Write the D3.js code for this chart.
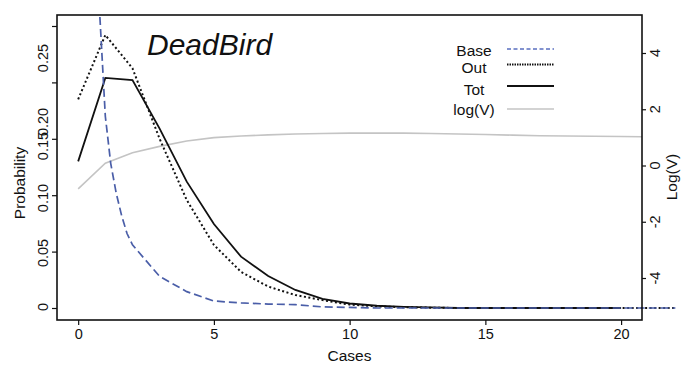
<!DOCTYPE html>
<html><head><meta charset="utf-8">
<script src="https://cdn.jsdelivr.net/npm/d3@7"></script>
<style>
body{margin:0;background:#fff;}
text{font-family:"Liberation Sans",Arial,sans-serif;fill:#111;}
</style></head>
<body><svg id="c" width="686" height="371"></svg>
<script>
// ---- data ----
const cases = [0,1,2,3,4,5,6,7,8,9,10,11,12,13,14,15,16,17,18,19,20,21,22];
const tot   = [0.130,0.204,0.202,0.159,0.112,0.0745,0.0455,0.0284,0.016,0.008,0.004,0.002,0.001,0.0005,0,0,0,0,0,0,0];
const outP  = [0.185,0.242,0.2125,0.150,0.0957,0.0559,0.032,0.019,0.0115,0.007,0.003,0.0015,0.0007,0.0003,0,0,0,0,0,0,0,0,0];
const baseX = [0.8,0.9,1.0,1.2,1.4,1.6,1.8,2,3,4,5,6,7,8,9,10,11,12,13,14,15,16,17,18,19,20,21,22];
const baseY = [0.258,0.214,0.17,0.128,0.102,0.082,0.066,0.056,0.028,0.0145,0.0062,0.0045,0.0035,0.003,0.001,0.0005,0,0,0,0,0,0,0,0,0,0,0,0];
const logV  = [-0.83,0.08,0.45,0.68,0.87,0.99,1.05,1.09,1.12,1.14,1.15,1.15,1.15,1.14,1.12,1.10,1.08,1.06,1.05,1.04,1.03,1.02];
const xTicks = [0,5,10,15,20];
const yTicks = [0,0.05,0.10,0.15,0.20,0.25];
const yTickLabels = ["0","0.05","0.10","0.15","0.20","0.25"];
const yLabelAt = [0.0009,0.0488,0.0975,0.1436,0.1649,0.2216]; // where the labels sit on the left scale
const rTicks = [-4,-2,0,2,4];
const legendItems = ["Base","Out","Tot","log(V)"];

// ---- layout ----
const L=57,R=642,T=15,B=320;
const svg = d3.select("#c");
const x = d3.scaleLinear().domain([-0.78,20.77]).range([L,R]);
const y = d3.scaleLinear().domain([-0.01064,0.25975]).range([B,T]);
const y2 = d3.scaleLinear().domain([-5.493,5.351]).range([B,T]);

svg.append("defs").append("clipPath").attr("id","box")
  .append("rect").attr("x",L).attr("y",T).attr("width",R-L).attr("height",B-T);

// axes
const gx = svg.append("g").attr("transform",`translate(0,${B})`)
  .call(d3.axisBottom(x).tickValues(xTicks).tickSize(5).tickPadding(4).tickFormat(d3.format("d")));
gx.select(".domain").remove();
gx.selectAll("text").attr("font-size","14.5px").attr("font-family","Liberation Sans, Arial, sans-serif").attr("fill","#111");
gx.selectAll("line").attr("stroke","#111").attr("stroke-width",1.2);

const gy = svg.append("g").attr("transform",`translate(${L},0)`)
  .call(d3.axisLeft(y).tickValues(yTicks).tickSize(5).tickFormat(""));
gy.select(".domain").remove();
gy.selectAll("line").attr("stroke","#111").attr("stroke-width",1.2);
svg.append("g").selectAll("text").data(yLabelAt).join("text")
  .attr("transform",d=>`translate(48,${y(d)}) rotate(-90)`)
  .attr("text-anchor","middle").attr("font-size","14.5px")
  .text((d,i)=>yTickLabels[i]);

const gr = svg.append("g").attr("transform",`translate(${R},0)`)
  .call(d3.axisRight(y2).tickValues(rTicks).tickSize(4).tickFormat(""));
gr.select(".domain").remove();
gr.selectAll("line").attr("stroke","#111").attr("stroke-width",1.2);
svg.append("g").selectAll("text").data(rTicks).join("text")
  .attr("transform",d=>`translate(660,${y2(d)}) rotate(-90)`)
  .attr("text-anchor","middle").attr("font-size","14.5px")
  .text(d=>d);

// axis titles
svg.append("text").attr("x",(L+R)/2).attr("y",361).attr("text-anchor","middle").attr("font-size","15.5px").text("Cases");
svg.append("text").attr("transform","translate(25,183) rotate(-90)").attr("text-anchor","middle").attr("font-size","15.5px").text("Probability");
svg.append("text").attr("transform","translate(677,177) rotate(-90)").attr("text-anchor","middle").attr("font-size","15.5px").text("Log(V)");

// lines
const lineL = d3.line().x(d=>x(d[0])).y(d=>y(d[1]));
const lineR = d3.line().x(d=>x(d[0])).y(d=>y2(d[1]));

svg.append("path").attr("clip-path","url(#box)")
  .attr("d",lineR(logV.map((v,i)=>[cases[i],v])))
  .attr("fill","none").attr("stroke","#c4c4c4").attr("stroke-width",1.6);
svg.append("path")
  .attr("d",lineL(tot.map((v,i)=>[cases[i],v])))
  .attr("fill","none").attr("stroke","#111").attr("stroke-width",1.8);
svg.append("path")
  .attr("d",lineL(outP.map((v,i)=>[cases[i],v])))
  .attr("fill","none").attr("stroke","#111").attr("stroke-width",2).attr("stroke-dasharray","2,2.5");
svg.append("path")
  .attr("d",lineL(baseY.map((v,i)=>[baseX[i],v])))
  .attr("fill","none").attr("stroke","#4a5ea8").attr("stroke-width",1.7).attr("stroke-dasharray","8,4");

// frame
svg.append("rect").attr("x",L).attr("y",T).attr("width",R-L).attr("height",B-T)
  .attr("fill","none").attr("stroke","#111").attr("stroke-width",1.6);

// title
svg.append("text").attr("x",147).attr("y",55).attr("font-size","30px").attr("font-style","italic").text("DeadBird");

// legend
const legY = [51,68,90,110];
const legLineY = [49,64.5,86,109];
const legStyle = [
  {stroke:"#5a6fc0",w:1.5,dash:"4,2.5"},
  {stroke:"#111",w:1.8,dash:"1.5,1"},
  {stroke:"#111",w:2,dash:null},
  {stroke:"#c4c4c4",w:1.6,dash:null}
];
const lg = svg.append("g");
legendItems.forEach((t,i)=>{
  lg.append("text").attr("x",474).attr("y",legY[i]+5).attr("text-anchor","middle").attr("font-size","15.5px").text(t);
  lg.append("line").attr("x1",507).attr("x2",554).attr("y1",legLineY[i]).attr("y2",legLineY[i])
    .attr("stroke",legStyle[i].stroke).attr("stroke-width",legStyle[i].w)
    .attr("stroke-dasharray",legStyle[i].dash);
});
</script></body></html>
